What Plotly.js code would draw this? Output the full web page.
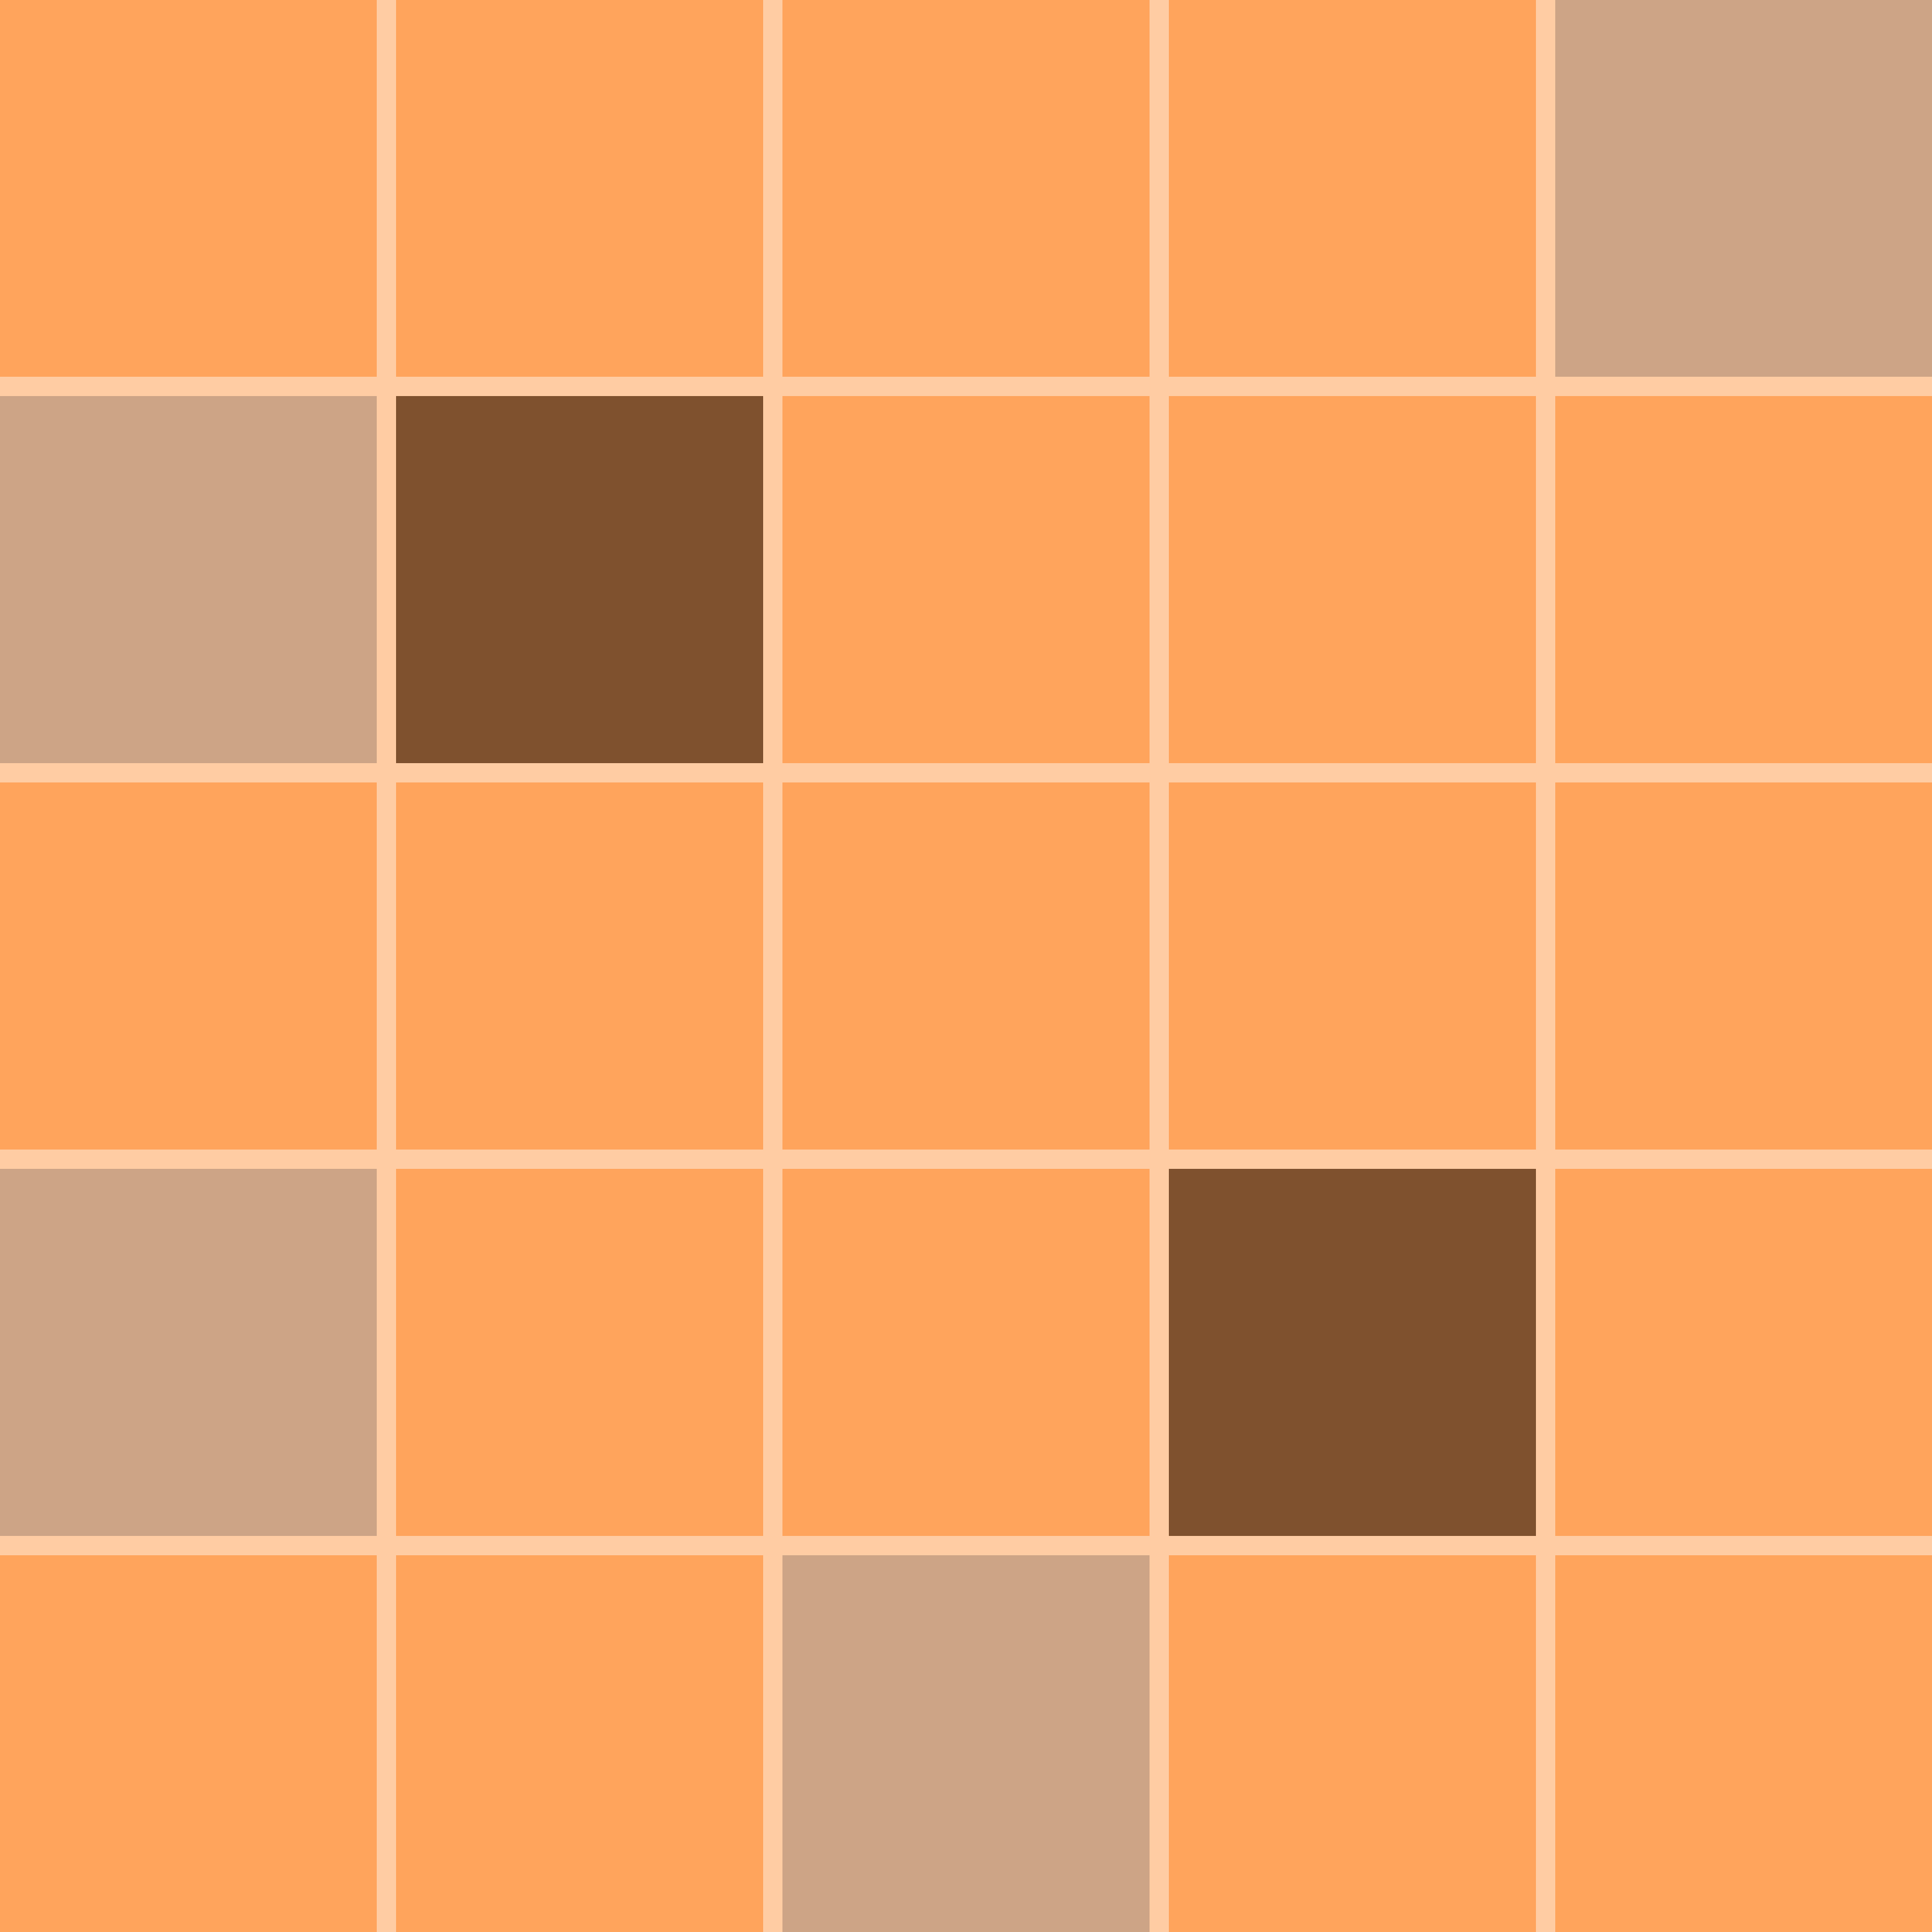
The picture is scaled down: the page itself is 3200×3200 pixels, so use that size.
<!DOCTYPE html>
<html>
<head>
<meta charset="utf-8">
<script src="https://cdn.plot.ly/plotly-3.0.1.min.js"></script>
<style>html,body{margin:0;padding:0;background:#FFCCA3;}</style>
</head>
<body>
<div id="chart" style="width:3200px;height:3200px;"></div>
<script>
// Categories (columns and rows)
const columns = ["C1", "C2", "C3", "C4", "C5"];
const rows = ["R1", "R2", "R3", "R4", "R5"];
// Cell levels, top row first: 0 = orange, 1 = tan, 2 = dark brown
const row1 = [0, 0, 0, 0, 1];
const row2 = [1, 2, 0, 0, 0];
const row3 = [0, 0, 0, 0, 0];
const row4 = [1, 0, 0, 2, 0];
const row5 = [0, 0, 1, 0, 0];
const levelColors = ["#FFA45C", "#CDA486", "#7F512E"];
const gapColor = "#FFCCA3";

const z = [row1, row2, row3, row4, row5];

const trace = {
  type: "heatmap",
  x: columns,
  y: rows,
  z: z,
  zmin: 0,
  zmax: 2,
  colorscale: [[0, levelColors[0]], [0.5, levelColors[1]], [1, levelColors[2]]],
  showscale: false,
  hoverinfo: "skip"
};

// Separator lines between cells (only between, not at the outer edges)
const shapes = [];
for (let i = 0; i < columns.length - 1; i++) {
  shapes.push({type: "line", layer: "above", xref: "x", yref: "paper",
    x0: i + 0.5, x1: i + 0.5, y0: 0, y1: 1, line: {color: gapColor, width: 32}});
}
for (let j = 0; j < rows.length - 1; j++) {
  shapes.push({type: "line", layer: "above", xref: "paper", yref: "y",
    x0: 0, x1: 1, y0: j + 0.5, y1: j + 0.5, line: {color: gapColor, width: 32}});
}

const layout = {
  width: 3200,
  height: 3200,
  margin: {l: 0, r: 0, t: 0, b: 0, pad: 0},
  paper_bgcolor: gapColor,
  plot_bgcolor: gapColor,
  xaxis: {visible: false, showgrid: false, zeroline: false},
  yaxis: {visible: false, showgrid: false, zeroline: false, autorange: "reversed"},
  shapes: shapes,
  showlegend: false
};

Plotly.newPlot("chart", [trace], layout, {displayModeBar: false, staticPlot: true});
</script>
</body>
</html>
